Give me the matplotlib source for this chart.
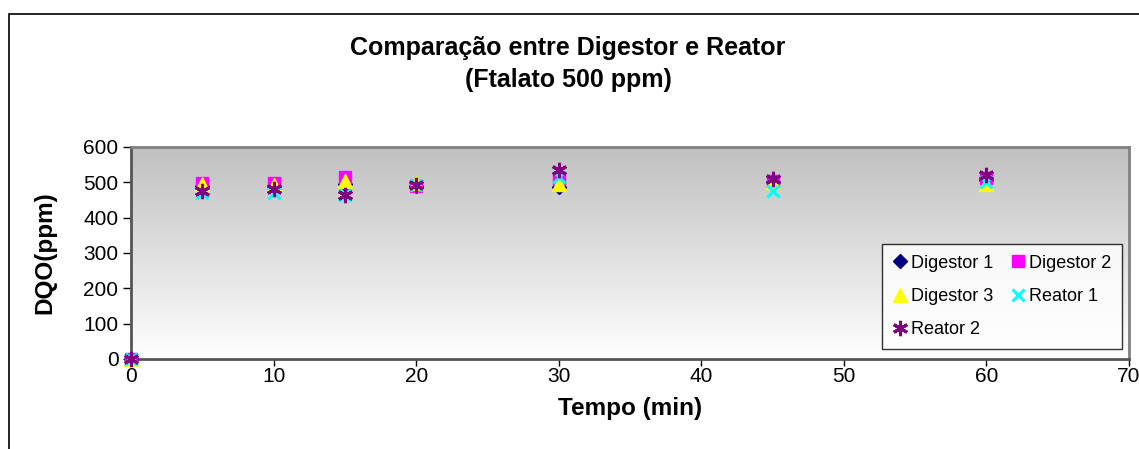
import matplotlib
matplotlib.use("Agg")
import matplotlib.pyplot as plt
import numpy as np
from matplotlib.patches import Rectangle

plt.rcParams['font.family'] = ['Liberation Sans', 'DejaVu Sans']

# data
tempo = [0, 5, 10, 15, 20, 30, 45, 60]
digestor1 = [0, 490, 490, 495, 490, 488, 500, 508]
digestor2 = [0, 497, 498, 515, 490, 510, 505, 512]
digestor3 = [0, 496, 493, 505, 497, 495, 500, 495]
reator1 = [0, 470, 470, 465, 493, 515, 475, 500]
reator2 = [0, 476, 480, 465, 493, 535, 510, 520]

series = [
    ('Digestor 1', digestor1, 'D', '#000080', 7),
    ('Digestor 2', digestor2, 's', '#ff00ff', 9),
    ('Digestor 3', digestor3, '^', '#ffff00', 10),
    ('Reator 1', reator1, 'x', '#00ffff', 9),
    ('Reator 2', reator2, (6, 2, 0), '#800080', 11),
]

fig = plt.figure(figsize=(11.39, 4.49), dpi=100)
fig.patches.append(Rectangle((9 / 1139, -0.1), 1.2, 0.1 + (1 - 14 / 449),
                             transform=fig.transFigure, fill=False,
                             edgecolor='black', linewidth=1.2))

ax = fig.add_axes([131 / 1139, 1 - 359 / 449, (1129 - 131) / 1139, (359 - 147) / 449])

# grey-to-white gradient background
grad = np.linspace(0, 1, 256).reshape(-1, 1)
ax.imshow(grad, extent=[0, 1, 0, 1], transform=ax.transAxes, aspect='auto',
          cmap=matplotlib.colors.LinearSegmentedColormap.from_list('g', ['#ffffff', '#c0c0c0']),
          origin='lower', zorder=0)

handles = {}
for name, vals, mk, col, sz in series:
    if mk == 'x' or isinstance(mk, tuple):
        h, = ax.plot(tempo, vals, linestyle='none', marker=mk, markersize=sz,
                     color=col, markeredgewidth=2.2, label=name, clip_on=False, zorder=3)
    else:
        h, = ax.plot(tempo, vals, linestyle='none', marker=mk, markersize=sz,
                     color=col, markeredgecolor=col, label=name, clip_on=False, zorder=3)
    handles[name] = h

ax.set_xlim(0, 70)
ax.set_ylim(0, 600)
ax.set_xticks(range(0, 71, 10))
ax.set_yticks(range(0, 601, 100))
ax.tick_params(axis='both', direction='out', length=6, width=1, labelsize=15)
ax.tick_params(axis='x', length=5, pad=0.5)
ax.tick_params(axis='y', pad=3)

for s in ['top', 'right']:
    ax.spines[s].set_color('#808080')
    ax.spines[s].set_linewidth(2)
for s in ['left', 'bottom']:
    ax.spines[s].set_color('#555555')
    ax.spines[s].set_linewidth(2)

ax.set_xlabel('Tempo (min)', fontsize=17.5, fontweight='bold', va='center')
ax.set_ylabel('DQO(ppm)', fontsize=17.5, fontweight='bold', va='center')
ax.xaxis.set_label_coords(0.5, (359 - 408) / 212)
ax.yaxis.set_label_coords((45 - 131) / 998, 0.5)

fig.text(568 / 1139, 1 - 48 / 449, 'Comparação entre Digestor e Reator',
         ha='center', va='center', fontsize=18, fontweight='bold')
fig.text(568 / 1139, 1 - 80 / 449, '(Ftalato 500 ppm)',
         ha='center', va='center', fontsize=18, fontweight='bold')

# row-major order in a 2-column legend
order = ['Digestor 1', 'Digestor 3', 'Reator 2', 'Digestor 2', 'Reator 1']
leg = ax.legend([handles[n] for n in order], order, ncol=2, loc='lower right',
                bbox_to_anchor=(1122 / 1139, 1 - 349 / 449),
                bbox_transform=fig.transFigure, fontsize=13, frameon=True, fancybox=False,
                edgecolor='black', handlelength=0.8, handletextpad=0.2, columnspacing=1.0,
                borderpad=0.6, labelspacing=0.9, borderaxespad=0)
leg.get_frame().set_linewidth(1)

fig.savefig('out.png', dpi=100)
